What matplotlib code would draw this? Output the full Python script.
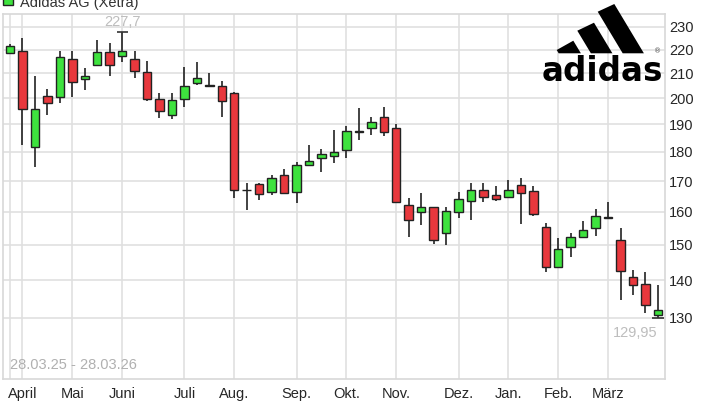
import pandas as pd
import numpy as np
import matplotlib.pyplot as plt
from matplotlib.patches import Polygon, Rectangle
from matplotlib.ticker import FixedLocator, NullLocator, NullFormatter

# Weekly candles, Adidas AG (Xetra), 28.03.25 - 28.03.26
week_start = "2025-03-24"
opens = [218.7, 219.4, 181.7, 200.9, 200.6, 215.9, 207.6, 213.5, 218.8, 217.4,
         215.9, 210.4, 199.7, 193.5, 199.7, 205.9, 205.3, 204.9, 202.1, 167.0,
         168.9, 166.4, 172.0, 166.4, 175.4, 177.7, 178.5, 180.6, 187.3, 188.6,
         192.7, 188.8, 162.2, 159.9, 161.5, 153.4, 160.1, 163.5, 167.0, 165.4,
         164.9, 168.6, 166.7, 155.4, 143.6, 149.4, 152.4, 155.0, 158.3, 151.4,
         140.8, 139.0, 130.8]
highs = [222.4, 225.2, 208.9, 203.5, 219.6, 219.6, 212.1, 224.2, 223.0, 227.7,
         219.6, 215.3, 201.9, 201.9, 212.8, 214.9, 210.0, 206.9, 202.5, 169.4,
         169.5, 172.0, 173.9, 176.5, 182.5, 181.2, 187.9, 189.2, 196.1, 192.9,
         196.5, 190.0, 164.5, 165.9, 161.7, 161.6, 166.4, 169.4, 169.4, 168.2,
         170.4, 171.0, 168.3, 156.6, 152.1, 153.6, 157.2, 160.8, 163.2, 155.0,
         142.8, 142.3, 138.7]
lows = [218.0, 182.5, 174.8, 193.5, 198.1, 200.6, 203.2, 213.1, 208.9, 214.9,
        208.0, 198.7, 192.3, 191.9, 196.5, 205.3, 204.3, 192.9, 164.3, 160.6,
        163.7, 165.4, 165.8, 162.8, 175.2, 173.1, 176.2, 177.7, 184.3, 186.1,
        185.7, 162.7, 152.4, 155.9, 150.2, 150.0, 158.0, 157.5, 163.0, 163.5,
        164.7, 156.4, 158.8, 142.3, 143.5, 146.6, 152.0, 152.6, 157.9, 134.6,
        136.0, 131.2, 129.95]
closes = [221.6, 195.7, 195.8, 198.1, 217.0, 206.6, 208.9, 218.8, 213.5, 219.4,
          211.0, 199.6, 195.0, 199.3, 205.0, 208.2, 205.0, 198.7, 167.0, 167.2,
          165.6, 170.9, 166.1, 175.4, 176.8, 179.1, 180.0, 187.4, 187.5, 191.0,
          187.3, 163.3, 157.5, 161.5, 151.4, 160.3, 164.0, 167.0, 164.9, 164.0,
          167.0, 166.1, 159.3, 143.5, 148.9, 152.4, 154.4, 158.6, 158.0, 142.6,
          138.7, 133.3, 131.9]
month_names = ["April", "Mai", "Juni", "Juli", "Aug.", "Sep.", "Okt.", "Nov.",
               "Dez.", "Jan.", "Feb.", "März"]
y_ticks = [130, 140, 150, 160, 170, 180, 190, 200, 210, 220, 230]

green = '#3ee23e'
red = '#e8383d'
grid_col = '#e0e0e0'

df = pd.DataFrame({'Open': opens, 'High': highs, 'Low': lows, 'Close': closes})
df['Week'] = pd.date_range(week_start, periods=len(df), freq='7D')
x = np.arange(len(df))

# month gridlines sit on the week that contains the 1st of the month
month_pos = []
for m in pd.date_range("2025-04-01", periods=12, freq='MS'):
    month_pos.append(int(((m - df['Week']).dt.days.between(0, 6)).idxmax()))

fig = plt.figure(figsize=(7.2, 4.05), dpi=100)
ax = fig.add_axes([3 / 720, 1 - 379 / 405, 662 / 720, 365 / 405])

ax.set_yscale('log')
ax.set_ylim(115.3, 235.9)
ax.set_xlim(-0.56, 52.57)

# grid
for p in [0] + month_pos:
    ax.axvline(p, color=grid_col, lw=1.2, zorder=0)
for v in y_ticks:
    ax.axhline(v, color=grid_col, lw=1.2, zorder=0)

# candles
up = df['Close'] >= df['Open']
colors = np.where(up, green, red)
ax.vlines(x, df['Low'], df['High'], color='#222222', lw=1.2, zorder=2)
bottoms = np.minimum(df['Open'], df['Close'])
heights = np.abs(df['Close'] - df['Open'])
ax.bar(x, heights, bottom=bottoms, width=0.68, color=colors,
       edgecolor='#222222', linewidth=1.0, zorder=3)

# period high / low markers
i_hi = int(df['High'].idxmax())
i_lo = int(df['Low'].idxmin())
ax.hlines(df['High'][i_hi], i_hi - 0.45, i_hi + 0.45, color='#333333', lw=1.2, zorder=3)
ax.hlines(df['Low'][i_lo], i_lo - 0.45, i_lo + 0.45, color='#333333', lw=1.2, zorder=3)
ax.annotate(f"{df['High'][i_hi]:.1f}".replace('.', ','), xy=(i_hi, df['High'][i_hi]),
            xytext=(0, 2.5), textcoords='offset points', ha='center', va='bottom',
            color='#bdbdbd', fontsize=10.5, family='Liberation Sans')
ax.annotate(f"{df['Low'][i_lo]:.2f}".replace('.', ','), xy=(i_lo, df['Low'][i_lo]),
            xytext=(-0.5, -6), textcoords='offset points', ha='right', va='top',
            color='#bdbdbd', fontsize=10.5, family='Liberation Sans')

# axes
ax.yaxis.tick_right()
ax.yaxis.set_major_locator(FixedLocator(y_ticks))
ax.yaxis.set_minor_locator(NullLocator())
ax.yaxis.set_minor_formatter(NullFormatter())
ax.set_yticklabels([str(v) for v in y_ticks])
ax.set_xticks(month_pos)
ax.set_xticklabels(month_names)
ax.tick_params(axis='both', length=0, labelsize=10.5, labelcolor='#262626')
ax.tick_params(axis='y', pad=3)
ax.tick_params(axis='x', pad=6)
for lab in ax.get_xticklabels() + ax.get_yticklabels():
    lab.set_family('Liberation Sans')
for s in ax.spines.values():
    s.set_color('#d8d8d8')
    s.set_linewidth(1.2)

ax.text(0.01, 0.02, "28.03.25 - 28.03.26", transform=ax.transAxes, ha='left',
        va='bottom', color='#b0b0b0', fontsize=10.5, family='Liberation Sans')


def fx(px):
    return px / 720


def fy(py):
    return 1 - py / 405


# legend (cut at the top edge, as in the source)
fig.patches.append(Rectangle((fx(3), fy(5)), fx(10), 10 / 405, transform=fig.transFigure,
                             facecolor=green, edgecolor='#222222', lw=1.0))
fig.text(fx(20), fy(7), "Adidas AG (Xetra)", ha='left', va='baseline',
         color='#333333', fontsize=10.5, family='Liberation Sans')

# adidas logo, top right
stripes = [
    [(556.7, 50), (573.3, 40.7), (580.9, 53.3), (558.7, 53.3)],
    [(577.3, 30.7), (594, 22.7), (612.4, 53.3), (590.9, 53.3)],
    [(597.7, 11.7), (614.3, 4), (643.9, 53.3), (622.7, 53.3)],
]
for st in stripes:
    fig.patches.append(Polygon([(fx(a), fy(b)) for a, b in st], closed=True,
                               transform=fig.transFigure, facecolor='black', edgecolor='none'))
fig.text(fx(602), fy(81), "adidas", ha='center', va='baseline', color='black',
         fontsize=23.5, fontweight='heavy', family='DejaVu Sans')
fig.text(fx(658), fy(51), "®", ha='center', va='center', color='#555555', fontsize=5)

plt.savefig("out.png", dpi=100)
